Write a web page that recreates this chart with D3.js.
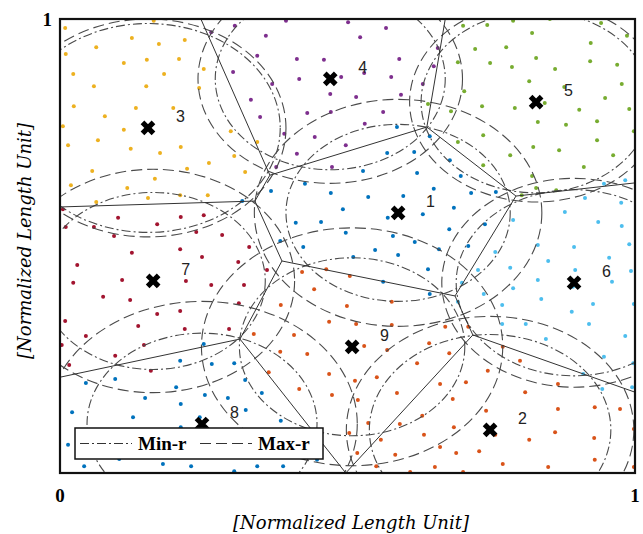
<!DOCTYPE html>
<html>
<head>
<meta charset="utf-8">
<script src="https://cdn.jsdelivr.net/npm/d3@7"></script>
<style>
body { margin: 0; background: #fff; }
svg { display: block; }
</style>
</head>
<body>
<svg id="chart" width="643" height="534"></svg>
<script>

// cluster heads (normalized units)
var clusterIds = [1, 2, 3, 4, 5, 6, 7, 8, 9];
var centerX = [0.588, 0.748, 0.153, 0.470, 0.828, 0.894, 0.162, 0.247, 0.508];
var centerY = [0.573, 0.095, 0.760, 0.868, 0.817, 0.419, 0.423, 0.108, 0.278];
var minR = [0.195, 0.210, 0.230, 0.200, 0.200, 0.205, 0.195, 0.200, 0.196];
var maxR = [0.250, 0.250, 0.240, 0.230, 0.220, 0.230, 0.246, 0.270, 0.262];
var clusterColors = ["#0072BD", "#D95319", "#EDB120", "#7E2F8E", "#77AC30",
                     "#4DBEEE", "#A2142F", "#0072BD", "#D95319"];

// sensor nodes of every cluster
var nodes1 = [[0.586,0.762],[0.643,0.742],[0.569,0.705],[0.616,0.707],[0.527,0.665],[0.621,0.661],
    [0.678,0.689],[0.697,0.654],[0.715,0.617],[0.650,0.626],[0.758,0.619],[0.317,0.599],[0.367,0.621],
    [0.426,0.637],[0.471,0.617],[0.536,0.608],[0.597,0.610],[0.492,0.581],[0.570,0.562],[0.631,0.570],
    [0.685,0.584],[0.410,0.551],[0.454,0.553],[0.497,0.529],[0.579,0.522],[0.617,0.509],[0.677,0.537],
    [0.383,0.511],[0.423,0.498],[0.548,0.491],[0.588,0.480],[0.659,0.493],[0.510,0.476],[0.640,0.449],
    [0.562,0.421],[0.643,0.394],[0.739,0.548],[0.710,0.500]];
var nodes2 = [[0.661,0.196],[0.683,0.163],[0.630,0.126],[0.591,0.108],[0.633,0.084],[0.685,0.101],
    [0.558,0.073],[0.583,0.040],[0.550,0.015],[0.609,0.002],[0.652,0.013],[0.661,0.057],[0.770,0.278],
    [0.800,0.247],[0.744,0.225],[0.706,0.200],[0.809,0.178],[0.866,0.196],[0.741,0.137],[0.866,0.141],
    [0.930,0.145],[0.974,0.141],[0.757,0.084],[0.816,0.073],[0.861,0.090],[0.929,0.077],[0.998,0.097],
    [0.689,0.044],[0.729,0.048],[0.930,0.029],[0.770,0.020],[0.849,0.013],[0.998,0.013],[0.701,0.002]];
var nodes3 = [[0.009,0.980],[0.163,0.996],[0.125,0.958],[0.063,0.938],[0.172,0.945],[0.217,0.954],
    [0.010,0.923],[0.111,0.903],[0.151,0.910],[0.207,0.912],[0.023,0.879],[0.181,0.879],[0.250,0.890],
    [0.059,0.852],[0.150,0.852],[0.242,0.848],[0.024,0.808],[0.132,0.804],[0.197,0.804],[0.078,0.786],
    [0.005,0.764],[0.111,0.756],[0.157,0.756],[0.014,0.722],[0.066,0.733],[0.123,0.714],[0.174,0.705],
    [0.210,0.718],[0.259,0.683],[0.056,0.665],[0.165,0.648],[0.221,0.670],[0.297,0.753],[0.343,0.729],
    [0.303,0.698],[0.322,0.663],[0.019,0.634],[0.117,0.628],[0.153,0.606],[0.209,0.612],[0.257,0.612],
    [0.063,0.597]];
var nodes4 = [[0.263,0.971],[0.304,0.985],[0.393,0.996],[0.501,0.993],[0.567,0.980],[0.358,0.963],
    [0.522,0.960],[0.343,0.919],[0.412,0.912],[0.459,0.910],[0.590,0.912],[0.301,0.883],[0.416,0.868],
    [0.489,0.872],[0.529,0.881],[0.576,0.872],[0.369,0.857],[0.470,0.835],[0.332,0.822],[0.515,0.828],
    [0.593,0.833],[0.631,0.857],[0.650,0.896],[0.657,0.936],[0.348,0.784],[0.430,0.793],[0.471,0.795],
    [0.562,0.795],[0.530,0.769],[0.390,0.747],[0.443,0.740],[0.497,0.722],[0.412,0.703],[0.473,0.674],
    [0.376,0.674]];
var nodes5 = [[0.701,0.985],[0.743,0.987],[0.788,0.996],[0.852,1.000],[0.941,0.991],[0.986,0.963],
    [0.821,0.969],[0.923,0.947],[0.722,0.934],[0.776,0.938],[0.692,0.905],[0.748,0.903],[0.828,0.914],
    [0.922,0.907],[0.969,0.899],[0.861,0.890],[0.786,0.894],[0.816,0.863],[0.877,0.850],[0.977,0.857],
    [0.703,0.841],[0.948,0.826],[0.734,0.808],[0.791,0.804],[0.843,0.815],[0.903,0.800],[0.990,0.802],
    [0.680,0.797],[0.640,0.813],[0.831,0.773],[0.880,0.767],[0.934,0.775],[0.998,0.753],[0.736,0.744],
    [0.692,0.729],[0.823,0.718],[0.868,0.711],[0.934,0.733],[0.783,0.700],[0.962,0.700],[0.736,0.678],
    [0.911,0.674],[0.821,0.654],[0.803,0.612],[0.828,0.628],[0.863,0.623]];
var nodes6 = [[0.946,0.637],[0.983,0.645],[0.913,0.606],[0.692,0.377],[0.976,0.595],[0.878,0.575],
    [0.936,0.553],[0.977,0.544],[0.788,0.557],[0.831,0.502],[0.894,0.498],[0.990,0.504],[0.757,0.487],
    [0.849,0.467],[0.955,0.474],[0.783,0.452],[0.896,0.447],[0.727,0.447],[0.993,0.445],[0.831,0.425],
    [0.960,0.421],[0.788,0.407],[0.699,0.419],[0.737,0.394],[0.892,0.410],[0.837,0.383],[0.769,0.370],
    [0.927,0.372],[0.998,0.372],[0.890,0.355],[0.810,0.328],[0.920,0.328],[0.769,0.328],[0.845,0.295],
    [0.983,0.302],[0.946,0.256],[0.997,0.242],[0.910,0.218],[0.943,0.185],[0.995,0.189]];
var nodes7 = [[0.005,0.581],[0.101,0.562],[0.169,0.548],[0.210,0.564],[0.250,0.568],[0.010,0.542],
    [0.059,0.542],[0.094,0.522],[0.237,0.531],[0.282,0.524],[0.125,0.485],[0.209,0.493],[0.329,0.498],
    [0.247,0.476],[0.030,0.458],[0.310,0.465],[0.108,0.425],[0.023,0.419],[0.219,0.423],[0.263,0.414],
    [0.169,0.414],[0.075,0.388],[0.122,0.381],[0.320,0.414],[0.311,0.374],[0.169,0.350],[0.209,0.357],
    [0.009,0.335],[0.136,0.324],[0.294,0.317],[0.217,0.317],[0.045,0.302],[0.003,0.282],[0.146,0.282],
    [0.096,0.258],[0.016,0.238],[0.360,0.447],[0.158,0.225]];
var nodes8 = [[0.250,0.284],[0.209,0.247],[0.264,0.240],[0.303,0.242],[0.096,0.207],[0.045,0.198],
    [0.202,0.189],[0.252,0.172],[0.148,0.165],[0.292,0.165],[0.210,0.152],[0.021,0.134],[0.127,0.123],
    [0.323,0.139],[0.243,0.123],[0.210,0.101],[0.014,0.062],[0.103,0.031],[0.042,0.015],[0.179,0.020],
    [0.228,0.015],[0.303,0.004],[0.322,0.205],[0.351,0.176],[0.384,0.115],[0.447,0.029],[0.343,0.015],
    [0.388,0.015]];
var nodes9 = [[0.463,0.449],[0.421,0.443],[0.504,0.434],[0.442,0.405],[0.384,0.370],[0.499,0.368],
    [0.577,0.377],[0.468,0.333],[0.515,0.328],[0.577,0.326],[0.670,0.322],[0.710,0.322],[0.337,0.306],
    [0.407,0.304],[0.569,0.271],[0.529,0.280],[0.642,0.286],[0.383,0.267],[0.430,0.262],[0.621,0.242],
    [0.677,0.264],[0.363,0.222],[0.416,0.185],[0.468,0.218],[0.473,0.172],[0.513,0.203],[0.518,0.161],
    [0.551,0.211],[0.586,0.176],[0.536,0.110],[0.503,0.088],[0.517,0.044]];
var clusterNodes = [nodes1, nodes2, nodes3, nodes4, nodes5, nodes6, nodes7, nodes8, nodes9];

// cell borders: vertices and the edges joining them
var cellVertices = [[0.339,0.599],[0.365,0.656],[0.245,1.000],[0.638,0.762],[0.670,1.000],
    [0.793,0.610],[1.000,0.639],[0.000,0.586],[0.386,0.467],[0.687,0.390],[0.718,0.304],
    [1.000,0.178],[0.497,0.000],[0.313,0.295],[0.000,0.211]];
var cellEdges = [[7,0],[0,1],[1,2],[1,3],[3,4],[3,5],[5,6],[5,9],[0,8],[8,9],[9,10],
    [10,11],[10,12],[8,13],[13,14],[13,12]];

var legendItems = ["Min-r", "Max-r"];
var axisTicks = [0, 1];


var width = 643, height = 534;
var plot = { left: 60, right: 635, top: 19, bottom: 473 };

var dashDot = "9,3,2,3";
var dashed = "11,5";

var svg = d3.select("#chart");

var x = d3.scaleLinear().domain([0, 1]).range([plot.left, plot.right]);
var y = d3.scaleLinear().domain([0, 1]).range([plot.bottom, plot.top]);

svg.append("defs").append("clipPath")
    .attr("id", "plotClip")
  .append("rect")
    .attr("x", plot.left)
    .attr("y", plot.top)
    .attr("width", plot.right - plot.left)
    .attr("height", plot.bottom - plot.top);

var inner = svg.append("g").attr("clip-path", "url(#plotClip)");

// nodes
clusterNodes.forEach(function(list, i) {
    inner.append("g")
        .attr("class", "nodes")
        .selectAll("circle")
        .data(list)
        .enter().append("circle")
            .attr("cx", d => x(d[0]))
            .attr("cy", d => y(d[1]))
            .attr("r", 2)
            .style("fill", clusterColors[i]);
});

// min / max radius rings (circles in data units)
function ring(radii, dash) {
    inner.append("g").selectAll("ellipse")
        .data(clusterIds)
        .enter().append("ellipse")
            .attr("cx", (d, i) => x(centerX[i]))
            .attr("cy", (d, i) => y(centerY[i]))
            .attr("rx", (d, i) => x(radii[i]) - x(0))
            .attr("ry", (d, i) => y(0) - y(radii[i]))
            .style("fill", "none")
            .style("stroke", "#4a4a4a")
            .style("stroke-width", 1.1)
            .style("stroke-dasharray", dash);
}
ring(minR, dashDot);
ring(maxR, dashed);

// cell borders
inner.append("g").selectAll("line")
    .data(cellEdges)
    .enter().append("line")
        .attr("x1", d => x(cellVertices[d[0]][0]))
        .attr("y1", d => y(cellVertices[d[0]][1]))
        .attr("x2", d => x(cellVertices[d[1]][0]))
        .attr("y2", d => y(cellVertices[d[1]][1]))
        .style("stroke", "#333")
        .style("stroke-width", 1);

// cluster heads
var heads = svg.append("g").selectAll("g")
    .data(clusterIds)
    .enter().append("g")
        .attr("transform", (d, i) => "translate(" + x(centerX[i]) + "," + y(centerY[i]) + ")");

heads.append("path")
    .attr("d", "M-5.5,-5.5L5.5,5.5M-5.5,5.5L5.5,-5.5")
    .style("stroke", "#000")
    .style("stroke-width", 5.2)
    .style("fill", "none");

heads.append("text")
    .attr("x", 28)
    .attr("y", -6)
    .style("font-family", "'Liberation Sans', Arial, sans-serif")
    .style("font-size", "16px")
    .style("fill", "#222")
    .text(d => d);

// frame
svg.append("rect")
    .attr("x", plot.left)
    .attr("y", plot.top)
    .attr("width", plot.right - plot.left)
    .attr("height", plot.bottom - plot.top)
    .style("fill", "none")
    .style("stroke", "#111")
    .style("stroke-width", 2.2);

// tick labels
var tickFont = "'Liberation Serif', 'Times New Roman', serif";
svg.selectAll(".xtick")
    .data(axisTicks)
    .enter().append("text")
        .attr("class", "xtick")
        .attr("x", d => x(d))
        .attr("y", 502)
        .attr("text-anchor", "middle")
        .style("font-family", tickFont)
        .style("font-weight", "bold")
        .style("font-size", "19px")
        .text(d => d);

svg.append("text")
    .attr("x", plot.left - 8)
    .attr("y", y(1) + 7)
    .attr("text-anchor", "end")
    .style("font-family", tickFont)
    .style("font-weight", "bold")
    .style("font-size", "19px")
    .text(axisTicks[1]);

// axis titles
var titleFont = "'DejaVu Serif', serif";
svg.append("text")
    .attr("x", 351)
    .attr("y", 529)
    .attr("text-anchor", "middle")
    .style("font-family", titleFont)
    .style("font-style", "italic")
    .style("font-size", "18px")
    .text("[Normalized Length Unit]");

svg.append("text")
    .attr("transform", "translate(31,241) rotate(-90)")
    .attr("text-anchor", "middle")
    .style("font-family", titleFont)
    .style("font-style", "italic")
    .style("font-size", "18px")
    .text("[Normalized Length Unit]");

// legend
var legend = svg.append("g").attr("transform", "translate(75,428)");
legend.append("rect")
    .attr("width", 248)
    .attr("height", 31)
    .style("fill", "#fff")
    .style("stroke", "#111")
    .style("stroke-width", 1.5);

var legendDash = [dashDot, dashed];
var legendX = [5, 125];
legendItems.forEach(function(name, i) {
    legend.append("line")
        .attr("x1", legendX[i])
        .attr("x2", legendX[i] + 52)
        .attr("y1", 15.5)
        .attr("y2", 15.5)
        .style("stroke", "#333")
        .style("stroke-width", 1.1)
        .style("stroke-dasharray", legendDash[i]);
    legend.append("text")
        .attr("x", legendX[i] + 58)
        .attr("y", 22)
        .style("font-family", tickFont)
        .style("font-weight", "bold")
        .style("font-size", "19px")
        .text(name);
});

</script>
</body>
</html>
